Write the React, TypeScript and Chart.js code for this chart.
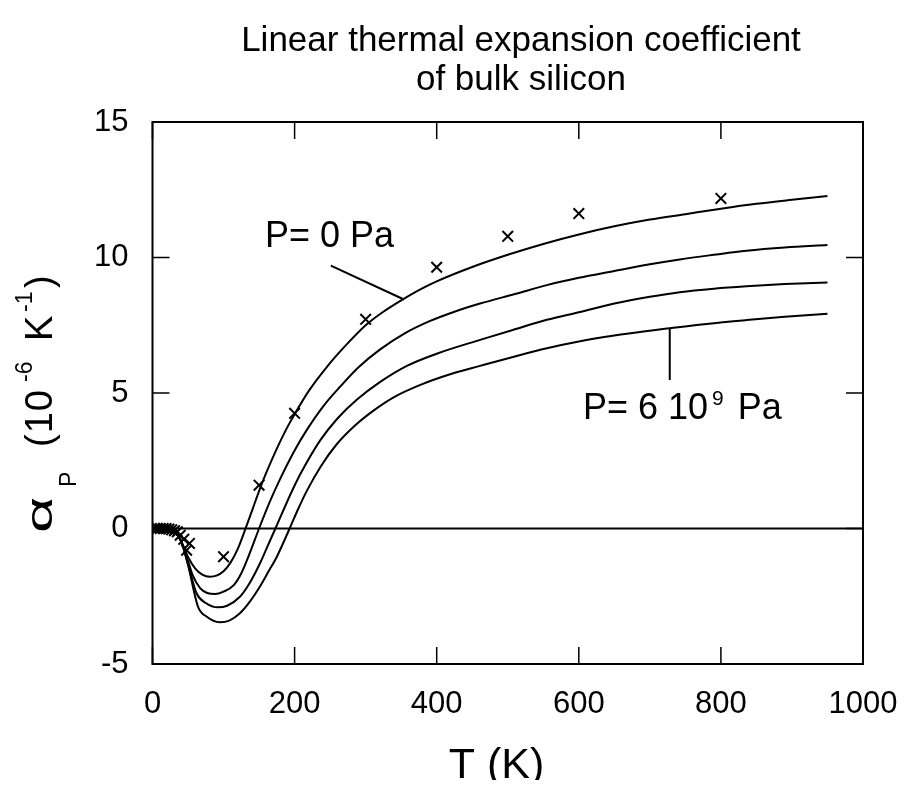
import React, { useEffect, useRef } from "react";
import { Chart, registerables } from "chart.js";

Chart.register(...registerables);

const FONT = "'Liberation Sans', Arial, Helvetica, sans-serif";

// ---- texts ----
const TITLE_LINES = ["Linear thermal expansion coefficient", "of bulk silicon"];
const X_TITLE = "T (K)";
const LABEL_P0 = "P= 0 Pa";
const LABEL_P6_MAIN = "P= 6 10";
const LABEL_P6_SUP = "9";
const LABEL_P6_END = " Pa";

// ---- ticks ----
const X_TICKS = [0, 200, 400, 600, 800, 1000];
const Y_TICKS = [-5, 0, 5, 10, 15];

// ---- curves (T in K, alpha in 1e-6 /K) ----
const T_P0 = [0, 10, 20, 30, 40, 50, 60, 70, 81, 90, 100, 110, 120, 131, 140, 151, 160, 175, 190, 200, 220, 245, 270, 300, 325, 350, 375, 400, 450, 500, 550, 600, 650, 700, 750, 800, 850, 900, 950];
const A_P0 = [0, 0, -0.02, -0.1, -0.45, -1.05, -1.47, -1.7, -1.78, -1.74, -1.58, -1.25, -0.75, 0, 0.65, 1.45, 2.05, 2.95, 3.75, 4.22, 5.08, 5.95, 6.7, 7.5, 8.0, 8.42, 8.8, 9.12, 9.65, 10.1, 10.5, 10.85, 11.15, 11.4, 11.6, 11.8, 11.98, 12.13, 12.27];

const T_P1 = [0, 10, 20, 30, 40, 50, 57, 67, 77, 88, 100, 114, 125, 137, 150, 165, 180, 200, 217, 240, 264, 290, 320, 355, 390, 425, 461, 510, 555, 600, 650, 700, 742, 790, 836, 890, 950];
const A_P1 = [0, 0, -0.02, -0.1, -0.45, -1.2, -1.75, -2.2, -2.38, -2.42, -2.33, -2.1, -1.65, -0.9, 0, 0.98, 1.85, 2.88, 3.63, 4.5, 5.23, 5.95, 6.6, 7.2, 7.65, 8.0, 8.3, 8.65, 8.98, 9.25, 9.5, 9.75, 9.93, 10.1, 10.25, 10.37, 10.46];

const T_P2 = [0, 10, 20, 30, 40, 50, 62, 75, 92, 105, 123, 137, 151, 162, 173, 185, 197, 210, 236, 260, 287, 320, 358, 400, 461, 510, 555, 600, 650, 700, 742, 790, 836, 890, 950];
const A_P2 = [0, 0, -0.02, -0.1, -0.45, -1.3, -2.39, -2.75, -2.91, -2.85, -2.52, -2.0, -1.3, -0.65, 0, 0.72, 1.42, 2.1, 3.25, 4.05, 4.74, 5.4, 6.0, 6.45, 6.96, 7.35, 7.7, 7.98, 8.3, 8.55, 8.72, 8.85, 8.94, 9.02, 9.08];

const T_P3 = [0, 10, 20, 30, 40, 50, 64, 76, 95, 108, 123, 137, 151, 163, 175, 193, 205, 217, 237, 259, 285, 311, 340, 377, 420, 461, 510, 555, 600, 650, 700, 728, 780, 836, 890, 950];
const A_P3 = [0, 0, -0.02, -0.1, -0.45, -1.35, -2.88, -3.25, -3.46, -3.4, -3.13, -2.7, -2.15, -1.6, -1.04, 0, 0.72, 1.38, 2.3, 3.1, 3.8, 4.35, 4.85, 5.3, 5.7, 6.0, 6.35, 6.65, 6.9, 7.12, 7.3, 7.39, 7.55, 7.69, 7.81, 7.92];

// ---- experimental points (crosses) ----
const EXP_T = [3, 7, 11, 15, 19, 23, 27, 31, 35, 39, 44, 48, 52, 100, 150, 200, 300, 400, 500, 600, 800];
const EXP_A = [0, 0, 0, 0, 0, -0.02, -0.05, -0.08, -0.12, -0.25, -0.4, -0.8, -0.55, -1.04, 1.6, 4.25, 7.72, 9.64, 10.78, 11.62, 12.18];

// ---- zero reference line ----
const ZERO_T = [0, 1000];
const ZERO_A = [0, 0];

// ---- annotation leader lines and label anchors (data coords) ----
const LEAD_P0_T = [251, 354];
const LEAD_P0_A = [9.7, 8.45];
const LEAD_P6_T = [728, 728];
const LEAD_P6_A = [7.39, 5.48];
const LABEL_P0_AT = [158.3, 10.39];
const LABEL_P6_AT = [605.9, 4.04];

const toXY = (ts: number[], as: number[]) => ts.map((t, i) => ({ x: t, y: as[i] }));

const curve = (ts: number[], as: number[]) => ({
  data: toXY(ts, as),
  showLine: true,
  borderColor: "#000",
  borderWidth: 2,
  pointRadius: 0,
  cubicInterpolationMode: "monotone" as const,
  fill: false,
});

const straight = (ts: number[], as: number[], w: number) => ({
  data: toXY(ts, as),
  showLine: true,
  borderColor: "#000",
  borderWidth: w,
  pointRadius: 0,
  tension: 0,
  fill: false,
});

const decorPlugin = {
  id: "decor",
  afterDraw(chart: any) {
    const { ctx, chartArea: ca, scales } = chart;
    const xs = scales.x;
    const ys = scales.y;
    ctx.save();
    ctx.strokeStyle = "#000";
    ctx.fillStyle = "#000";

    // frame
    ctx.lineWidth = 2;
    ctx.strokeRect(ca.left, ca.top, ca.right - ca.left, ca.bottom - ca.top);

    // inward ticks on all four sides
    const TL = 17;
    ctx.lineWidth = 1.5;
    ctx.beginPath();
    X_TICKS.forEach((v) => {
      const p = xs.getPixelForValue(v);
      ctx.moveTo(p, ca.bottom);
      ctx.lineTo(p, ca.bottom - TL);
      ctx.moveTo(p, ca.top);
      ctx.lineTo(p, ca.top + TL);
    });
    Y_TICKS.forEach((v) => {
      const p = ys.getPixelForValue(v);
      ctx.moveTo(ca.left, p);
      ctx.lineTo(ca.left + TL, p);
      ctx.moveTo(ca.right, p);
      ctx.lineTo(ca.right - TL, p);
    });
    ctx.stroke();

    // main title
    ctx.textAlign = "center";
    ctx.textBaseline = "alphabetic";
    ctx.font = `35px ${FONT}`;
    ctx.fillText(TITLE_LINES[0], 513, 43);
    ctx.fillText(TITLE_LINES[1], 513, 82);

    // x axis title
    ctx.font = `43px ${FONT}`;
    ctx.fillText(X_TITLE, 488.5, 770);

    // y axis title (rotated, with sub/superscripts)
    ctx.save();
    ctx.translate(44, 525);
    ctx.rotate(-Math.PI / 2);
    ctx.textAlign = "left";
    ctx.font = `37px ${FONT}`;
    ctx.save();
    ctx.scale(1.7, 1);
    ctx.fillText("α", 0, 0);
    ctx.restore();
    ctx.font = `23px ${FONT}`;
    ctx.fillText("P", 46, 24);
    ctx.font = `38px ${FONT}`;
    (ctx as any).letterSpacing = "1px";
    ctx.fillText("(10", 86, 0);
    (ctx as any).letterSpacing = "0px";
    ctx.font = `23px ${FONT}`;
    ctx.fillText("-6", 151, -20);
    ctx.font = `38px ${FONT}`;
    ctx.fillText("K", 192, 0);
    ctx.font = `23px ${FONT}`;
    ctx.fillText("-1", 221, -20);
    ctx.font = `38px ${FONT}`;
    ctx.fillText(")", 245, 0);
    ctx.restore();

    // annotation labels
    ctx.textAlign = "left";
    ctx.font = `36px ${FONT}`;
    ctx.fillText(LABEL_P0, xs.getPixelForValue(LABEL_P0_AT[0]), ys.getPixelForValue(LABEL_P0_AT[1]));
    const lx = xs.getPixelForValue(LABEL_P6_AT[0]);
    const ly = ys.getPixelForValue(LABEL_P6_AT[1]);
    ctx.fillText(LABEL_P6_MAIN, lx, ly);
    let w = ctx.measureText(LABEL_P6_MAIN).width;
    ctx.font = `21px ${FONT}`;
    ctx.fillText(LABEL_P6_SUP, lx + w + 4, ly - 14);
    w += 4 + ctx.measureText(LABEL_P6_SUP).width + 4;
    ctx.font = `36px ${FONT}`;
    ctx.fillText(LABEL_P6_END, lx + w, ly);

    ctx.restore();
  },
};

export default function App() {
  const ref = useRef<HTMLCanvasElement>(null);
  useEffect(() => {
    if (!ref.current) return;
    const chart = new Chart(ref.current, {
      type: "scatter",
      data: {
        datasets: [
          straight(ZERO_T, ZERO_A, 2) as any,
          curve(T_P0, A_P0) as any,
          curve(T_P1, A_P1) as any,
          curve(T_P2, A_P2) as any,
          curve(T_P3, A_P3) as any,
          straight(LEAD_P0_T, LEAD_P0_A, 2) as any,
          straight(LEAD_P6_T, LEAD_P6_A, 2) as any,
          {
            data: toXY(EXP_T, EXP_A),
            showLine: false,
            pointStyle: "crossRot",
            pointRadius: 7.5,
            borderWidth: 2,
            borderColor: "#000",
            backgroundColor: "#000",
          } as any,
        ],
      },
      options: {
        animation: false,
        responsive: false,
        layout: { padding: { top: 114, right: 35, left: 0, bottom: 0 } },
        plugins: {
          legend: { display: false },
          title: { display: false },
          tooltip: { enabled: false },
        },
        scales: {
          x: {
            type: "linear",
            min: 0,
            max: 1000,
            ticks: {
              stepSize: 200,
              font: { family: FONT, size: 31 },
              color: "#000",
              padding: 22,
              maxRotation: 0,
              callback: (v: any) => String(v),
            },
            grid: { display: false, drawTicks: false },
            border: { display: false },
            afterFit: (s: any) => {
              s.height = 116;
              s.paddingLeft = 0;
              s.paddingRight = 0;
            },
          },
          y: {
            type: "linear",
            min: -5,
            max: 15,
            ticks: {
              stepSize: 5,
              font: { family: FONT, size: 31 },
              color: "#000",
              padding: 24,
              callback: (v: any) => String(v),
            },
            grid: { display: false, drawTicks: false },
            border: { display: false },
            afterFit: (s: any) => {
              s.width = 144.5;
              s.paddingTop = 0;
              s.paddingBottom = 0;
            },
          },
        },
      },
      plugins: [decorPlugin],
    });
    return () => chart.destroy();
  }, []);
  return <canvas ref={ref} width={890} height={772} style={{ display: "block" }} />;
}
